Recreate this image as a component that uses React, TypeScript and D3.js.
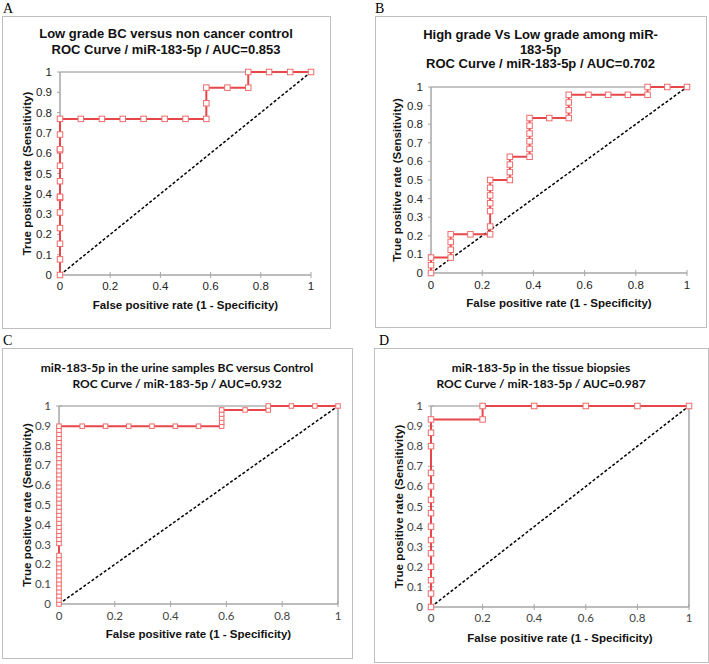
import React from 'react';
import * as d3 from 'd3';

// A: low grade BC vs non cancer control
const fprA = [0, 0, 0, 0, 0, 0, 0, 0, 0, 0, 0, 0, 0, 0.083, 0.167, 0.25, 0.333, 0.417, 0.5, 0.583, 0.583, 0.583, 0.667, 0.75, 0.75, 0.833, 0.917, 1];
const tprA = [0, 0.077, 0.154, 0.231, 0.308, 0.38, 0.385, 0.462, 0.538, 0.615, 0.62, 0.692, 0.769, 0.769, 0.769, 0.769, 0.769, 0.769, 0.769, 0.769, 0.846, 0.923, 0.923, 0.923, 1, 1, 1, 1];

// B: high grade vs low grade
const fprB = [0, 0, 0, 0.077, 0.077, 0.077, 0.077, 0.154, 0.231, 0.231, 0.231, 0.231, 0.231, 0.231, 0.231, 0.308, 0.308, 0.308, 0.308, 0.385, 0.385, 0.385, 0.385, 0.385, 0.385, 0.462, 0.538, 0.538, 0.538, 0.538, 0.615, 0.692, 0.769, 0.846, 0.846, 0.923, 1];
const tprB = [0, 0.042, 0.083, 0.083, 0.125, 0.167, 0.208, 0.208, 0.208, 0.25, 0.333, 0.375, 0.417, 0.458, 0.5, 0.5, 0.542, 0.583, 0.625, 0.625, 0.667, 0.708, 0.75, 0.792, 0.833, 0.833, 0.833, 0.875, 0.917, 0.958, 0.958, 0.958, 0.958, 0.958, 1, 1, 1];

// C: urine samples BC vs control
const tprC0 = [0, 0.02, 0.041, 0.061, 0.082, 0.102, 0.122, 0.143, 0.163, 0.184, 0.204, 0.224, 0.245, 0.306, 0.327, 0.347, 0.367, 0.388, 0.408, 0.429, 0.449, 0.469, 0.49, 0.51, 0.531, 0.551, 0.571, 0.592, 0.612, 0.633, 0.653, 0.673, 0.694, 0.714, 0.735, 0.755, 0.776, 0.796, 0.816, 0.837, 0.857, 0.878, 0.898];
const fprCtail = [0.083, 0.167, 0.25, 0.333, 0.417, 0.5, 0.583, 0.583, 0.583, 0.583, 0.583, 0.667, 0.75, 0.75, 0.833, 0.917, 1];
const tprCtail = [0.898, 0.898, 0.898, 0.898, 0.898, 0.898, 0.898, 0.918, 0.939, 0.959, 0.98, 0.98, 0.98, 1, 1, 1, 1];
const fprC = tprC0.map(() => 0).concat(fprCtail);
const tprC = tprC0.concat(tprCtail);

// D: tissue biopsies
const fprD = [0, 0, 0, 0, 0, 0, 0, 0, 0, 0, 0, 0, 0, 0, 0.2, 0.2, 0.4, 0.6, 0.8, 1];
const tprD = [0, 0.067, 0.133, 0.2, 0.267, 0.333, 0.4, 0.467, 0.533, 0.6, 0.667, 0.8, 0.867, 0.933, 0.933, 1, 1, 1, 1, 1];

const titleA = ['Low grade BC versus non cancer control', 'ROC Curve / miR-183-5p / AUC=0.853'];
const titleB = ['High grade Vs Low grade among miR-', '183-5p', 'ROC Curve / miR-183-5p / AUC=0.702'];
const titleC = ['miR-183-5p in the urine samples BC versus Control', 'ROC Curve / miR-183-5p / AUC=0.932'];
const titleD = ['miR-183-5p in the tissue biopsies', 'ROC Curve / miR-183-5p / AUC=0.987'];

const ARIAL = '"Liberation Sans", Arial, sans-serif';
const CALIBRI = 'Lato, Carlito, Calibri, sans-serif';

const panels = [
  {
    letter: 'A', fpr: fprA, tpr: tprA, title: titleA, font: ARIAL, tickFont: ARIAL, tickColor: '#222',
    box: [2, 16, 330, 328], letterPos: [3, 13],
    x0: 60, x1: 311, y0: 275, y1: 72, titleY: 38, titleStep: 16, titleSize: 13,
    xTickY: 290, xTitleY: 309, yTitleX: 31, frame: false, ms: 5.5,
  },
  {
    letter: 'B', fpr: fprB, tpr: tprB, title: titleB, font: ARIAL, tickFont: ARIAL, tickColor: '#222',
    box: [375, 16, 706, 327], letterPos: [375, 13],
    x0: 431, x1: 687, y0: 273, y1: 87, titleY: 39, titleStep: 14.5, titleSize: 13,
    xTickY: 289, xTitleY: 307, yTitleX: 401, frame: false, ms: 5.5,
  },
  {
    letter: 'C', fpr: fprC, tpr: tprC, title: titleC, font: CALIBRI, tickFont: CALIBRI, tickColor: '#444',
    box: [2, 348, 352, 658], letterPos: [3, 345],
    x0: 59, x1: 338, y0: 604, y1: 406, titleY: 372, titleStep: 16, titleSize: 12,
    xTickY: 620, xTitleY: 638, yTitleX: 31, frame: true, ms: 4.5,
  },
  {
    letter: 'D', fpr: fprD, tpr: tprD, title: titleD, font: CALIBRI, tickFont: CALIBRI, tickColor: '#444',
    box: [374, 348, 708, 662], letterPos: [379, 345],
    x0: 431, x1: 689, y0: 607, y1: 406, titleY: 372, titleStep: 16, titleSize: 12,
    xTickY: 622, xTitleY: 642, yTitleX: 403, frame: true, ms: 5.5,
  },
];

const fmt = (v: number) => String(+v.toFixed(1));

function RocPanel({ p }: { p: any }) {
  const x = d3.scaleLinear().domain([0, 1]).range([p.x0, p.x1]);
  const y = d3.scaleLinear().domain([0, 1]).range([p.y0, p.y1]);
  const pts: [number, number][] = p.fpr.map((f: number, i: number) => [f, p.tpr[i]]);
  const line = d3.line<[number, number]>().x(d => x(d[0])).y(d => y(d[1]));
  const [bx0, by0, bx1, by1] = p.box;
  const cx = (bx0 + bx1) / 2;
  const axisColor = '#a6a6a6';
  const ms = p.ms;

  return (
    <g>
      <text x={p.letterPos[0]} y={p.letterPos[1]} fontFamily='"Liberation Serif", "Times New Roman", serif' fontSize={14}>
        {p.letter}
      </text>
      <rect x={bx0 + 0.5} y={by0 + 0.5} width={bx1 - bx0} height={by1 - by0} fill="none" stroke="#bfbfbf" />
      {p.title.map((t: string, i: number) => (
        <text key={i} x={cx} y={p.titleY + i * p.titleStep} textAnchor="middle"
          fontFamily={p.font} fontWeight="bold" fontSize={p.titleSize} fill="#111">
          {t}
        </text>
      ))}

      {/* plot frame: top edge always, right edge on the C/D style */}
      <line x1={x(0)} x2={x(1)} y1={y(1)} y2={y(1)} stroke="#8c8c8c" strokeWidth={1} />
      {p.frame && <line x1={x(1)} x2={x(1)} y1={y(1)} y2={y(0)} stroke={axisColor} strokeWidth={1.5} />}

      {/* axes */}
      <line x1={x(0)} x2={x(1)} y1={y(0)} y2={y(0)} stroke={axisColor} strokeWidth={1.5} />
      <line x1={x(0)} x2={x(0)} y1={y(0)} y2={y(1)} stroke={axisColor} strokeWidth={1.5} />
      {x.ticks(5).map(t => (
        <g key={'x' + t}>
          <line x1={x(t)} x2={x(t)} y1={y(0) - 3} y2={y(0) + 3} stroke={axisColor} />
          <text x={x(t)} y={p.xTickY} textAnchor="middle" fontFamily={p.tickFont} fontSize={11.5} fill={p.tickColor}>
            {fmt(t)}
          </text>
        </g>
      ))}
      {y.ticks(10).map(t => (
        <g key={'y' + t}>
          <line x1={x(0) - 3} x2={x(0) + (p.frame ? 3 : 0)} y1={y(t)} y2={y(t)} stroke={axisColor} />
          <text x={x(0) - 8} y={y(t)} dy="0.35em" textAnchor="end" fontFamily={p.tickFont} fontSize={11.5} fill={p.tickColor}>
            {fmt(t)}
          </text>
        </g>
      ))}
      <text x={(p.x0 + p.x1) / 2} y={p.xTitleY} textAnchor="middle" fontFamily={ARIAL} fontWeight="bold" fontSize={11.5} fill="#111">
        False positive rate (1 - Specificity)
      </text>
      <text transform={`translate(${p.yTitleX},${(p.y0 + p.y1) / 2}) rotate(-90)`} textAnchor="middle"
        fontFamily={ARIAL} fontWeight="bold" fontSize={11.5} fill="#111">
        True positive rate (Sensitivity)
      </text>

      {/* chance diagonal */}
      <line x1={x(0)} y1={y(0)} x2={x(1)} y2={y(1)} stroke="#000" strokeWidth={1.5} strokeDasharray="3 2" />

      {/* ROC curve */}
      <path d={line(pts) || ''} fill="none" stroke="#e8474a" strokeWidth={2} />
      {pts.map((d, i) => (
        <rect key={i} x={x(d[0]) - ms / 2} y={y(d[1]) - ms / 2} width={ms} height={ms}
          fill="#fff" stroke="#ee6b6b" strokeWidth={1} />
      ))}
    </g>
  );
}

export default function App() {
  return (
    <svg width={709} height={664} style={{ position: 'absolute', left: 0, top: 0, background: '#fff' }}>
      <rect width={709} height={664} fill="#fff" />
      {panels.map(p => <RocPanel key={p.letter} p={p} />)}
    </svg>
  );
}
